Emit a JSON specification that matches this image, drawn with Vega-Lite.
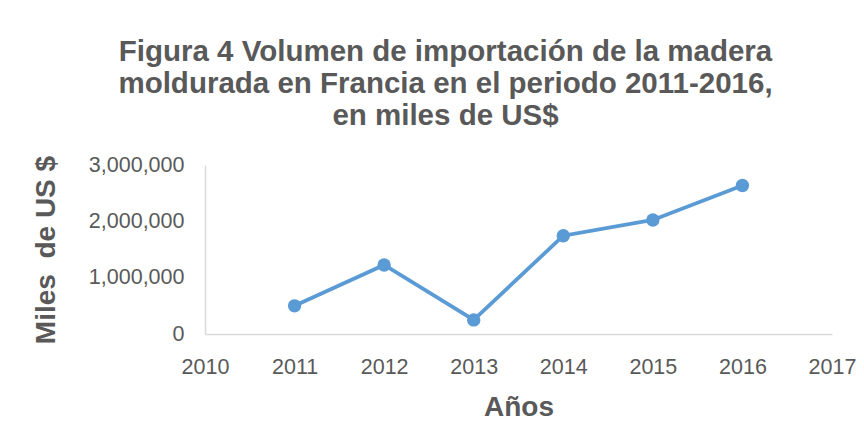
{
  "$schema": "https://vega.github.io/schema/vega-lite/v6.json",
  "width": 627,
  "height": 169,
  "autosize": "none",
  "padding": {"left": 205, "top": 165, "right": 32, "bottom": 114},
  "background": "white",
  "title": {
    "text": ["Figura 4 Volumen de importación de la madera", "moldurada en Francia en el periodo 2011-2016,", "en miles de US$"],
    "font": "Liberation Sans",
    "fontSize": 29.5,
    "fontWeight": "bold",
    "color": "#595959",
    "lineHeight": 32,
    "anchor": "middle",
    "frame": "group",
    "dx": -73,
    "offset": 23
  },
  "data": {
    "values": [
      {"year": 2011, "value": 500000},
      {"year": 2012, "value": 1225000},
      {"year": 2013, "value": 250000},
      {"year": 2014, "value": 1745000},
      {"year": 2015, "value": 2025000},
      {"year": 2016, "value": 2635000}
    ]
  },
  "layer": [
    {
      "mark": {"type": "line", "color": "#5b9bd5", "strokeWidth": 3.8},
      "encoding": {}
    },
    {
      "mark": {"type": "point", "filled": true, "opacity": 1, "color": "#5b9bd5", "size": 180, "shape": "circle"}
    }
  ],
  "encoding": {
    "x": {
      "field": "year",
      "type": "quantitative",
      "scale": {"domain": [2010, 2017], "nice": false, "zero": false},
      "axis": {
        "title": "Años",
        "values": [2010, 2011, 2012, 2013, 2014, 2015, 2016, 2017],
        "format": "d",
        "grid": false,
        "ticks": false,
        "domainColor": "#d9d9d9",
        "domainWidth": 1.5,
        "labelFont": "Liberation Sans",
        "labelFontSize": 21.5,
        "labelColor": "#595959",
        "labelPadding": 22,
        "labelFlush": false,
        "labelOverlap": false,
        "titleFont": "Liberation Sans",
        "titleFontSize": 28,
        "titleFontWeight": "bold",
        "titleColor": "#595959",
        "titlePadding": 16
      }
    },
    "y": {
      "field": "value",
      "type": "quantitative",
      "scale": {"domain": [0, 3000000], "nice": false},
      "axis": {
        "title": "Miles\u00a0\u00a0de US $",
        "values": [0, 1000000, 2000000, 3000000],
        "format": ",d",
        "grid": false,
        "ticks": false,
        "domainColor": "#d9d9d9",
        "domainWidth": 1.5,
        "labelFont": "Liberation Sans",
        "labelFontSize": 21.5,
        "labelColor": "#595959",
        "labelPadding": 21,
        "labelFlush": false,
        "titleFont": "Liberation Sans",
        "titleFontSize": 28,
        "titleFontWeight": "bold",
        "titleColor": "#595959",
        "titlePadding": 28
      }
    }
  },
  "config": {"view": {"stroke": null}}
}
